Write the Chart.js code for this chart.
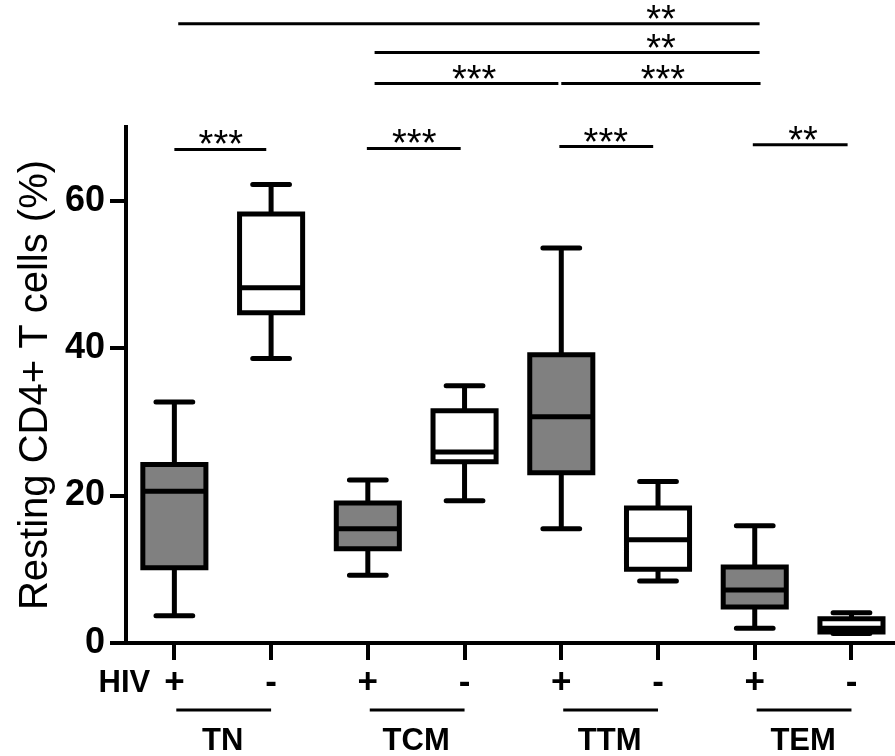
<!DOCTYPE html>
<html><head><meta charset="utf-8">
<script src="https://cdn.jsdelivr.net/npm/chart.js@4.4.1/dist/chart.umd.min.js"></script>
<style>html,body{margin:0;padding:0;background:#fff;}#wrap{width:895px;height:756px;position:relative;}canvas{display:block;}</style>
</head><body><div id="wrap"><canvas id="c" width="895" height="756" style="width:895px;height:756px"></canvas></div>
<script>
// ---- data ----
const groups = ['TN', 'TCM', 'TTM', 'TEM'];
const hivStatus = ['+', '-', '+', '-', '+', '-', '+', '-'];
const positions = [0, 1, 2, 3, 4, 5, 6, 7];
const whiskerLow  = [3.7, 38.6, 9.2, 19.3, 15.5, 8.4, 2.0, 1.3];
const quartile1   = [10.2, 44.8, 12.8, 24.6, 23.1, 10.0, 4.9, 1.5];
const medians     = [20.6, 48.2, 15.5, 25.9, 30.7, 14.0, 7.2, 2.0];
const quartile3   = [24.2, 58.2, 19.0, 31.5, 39.1, 18.3, 10.3, 3.3];
const whiskerHigh = [32.7, 62.2, 22.1, 34.9, 53.6, 21.9, 15.9, 4.1];
const yTicks = [0, 20, 40, 60];
const yTitle = 'Resting CD4+ T cells (%)';
const hivLabel = 'HIV';
// significance comparisons (in axis units)
const sigFrom   = [0.04, 2.07, 2.07, 4.00, 0.00, 1.99, 3.98, 5.98];
const sigTo     = [6.05, 6.05, 3.97, 6.06, 0.95, 2.96, 4.95, 6.96];
const sigLevel  = [84.0, 80.1, 75.9, 75.9, 66.95, 67.1, 67.35, 67.6];
const sigText   = ['**', '**', '***', '***', '***', '***', '***', '**'];
const sigTextAt = [5.03, 5.03, 3.10, 5.05, 0.48, 2.48, 4.46, 6.50];

// ---- styles ----
const BOX = 0.326, CAP = 0.19;
const FONT = "'Liberation Sans', Arial, sans-serif";

const barData = positions.map((p, i) => ({x: p, y: [quartile1[i], quartile3[i]]}));
const whiskerData = positions.flatMap((p, i) => [
  {x: p, y: quartile3[i]}, {x: p, y: whiskerHigh[i]}, {x: p, y: null},
  {x: p, y: quartile1[i]}, {x: p, y: whiskerLow[i]}, {x: p, y: null}]);
const capData = positions.flatMap((p, i) => [
  {x: p - CAP, y: whiskerHigh[i]}, {x: p + CAP, y: whiskerHigh[i]}, {x: p, y: null},
  {x: p - CAP, y: whiskerLow[i]}, {x: p + CAP, y: whiskerLow[i]}, {x: p, y: null}]);
const medianData = positions.flatMap((p, i) => [
  {x: p - BOX, y: medians[i]}, {x: p + BOX, y: medians[i]}, {x: p, y: null}]);
const outlineData = positions.flatMap((p, i) => [
  {x: p - BOX, y: quartile1[i]}, {x: p - BOX, y: quartile3[i]}, {x: p + BOX, y: quartile3[i]},
  {x: p + BOX, y: quartile1[i]}, {x: p - BOX, y: quartile1[i]}, {x: p, y: null}]);

const lineDs = (data, cap, w) => ({type: 'line', data, borderColor: '#000', borderWidth: w,
  pointRadius: 0, tension: 0, spanGaps: false, borderCapStyle: cap, borderJoinStyle: 'miter', order: 0, clip: false});

const annotations = {
  id: 'annotations',
  afterDraw(chart) {
    const {ctx, scales: {x, y}} = chart;
    ctx.save();
    ctx.fillStyle = '#000'; ctx.strokeStyle = '#000';
    ctx.lineWidth = 3; ctx.lineCap = 'butt';
    ctx.font = "38px " + FONT;
    ctx.textAlign = 'center'; ctx.textBaseline = 'alphabetic';
    sigFrom.forEach((f, i) => {
      const py = y.getPixelForValue(sigLevel[i]);
      ctx.beginPath(); ctx.moveTo(x.getPixelForValue(f), py); ctx.lineTo(x.getPixelForValue(sigTo[i]), py); ctx.stroke();
      const m = ctx.measureText(sigText[i]);
      const cy = py - 12;
      ctx.fillText(sigText[i], x.getPixelForValue(sigTextAt[i]), cy + (m.actualBoundingBoxAscent - m.actualBoundingBoxDescent) / 2);
    });
    ctx.font = 'bold 31px ' + FONT;
    ctx.textAlign = 'right'; ctx.textBaseline = 'middle';
    ctx.fillText(hivLabel, x.getPixelForValue(-0.25), x.top + 40);
    groups.forEach((g, k) => {
      const ly = x.top + 67;
      ctx.lineWidth = 3;
      ctx.beginPath(); ctx.moveTo(x.getPixelForValue(2 * k + 0.02), ly); ctx.lineTo(x.getPixelForValue(2 * k + 1), ly); ctx.stroke();
      ctx.textAlign = 'center';
      ctx.fillText(g, x.getPixelForValue(2 * k + 0.5), x.top + 98);
    });
    ctx.restore();
  }
};

new Chart(document.getElementById('c'), {
  type: 'bar',
  data: {
    datasets: [
      lineDs(outlineData, 'square', 5),
      lineDs(medianData, 'butt', 5),
      lineDs(whiskerData, 'butt', 5),
      lineDs(capData, 'round', 5),
      {type: 'bar', data: barData, order: 10, borderWidth: 0,
       backgroundColor: hivStatus.map(s => s === '+' ? '#808080' : '#ffffff'),
       categoryPercentage: 1, barPercentage: 2 * BOX}
    ]
  },
  options: {
    responsive: false, maintainAspectRatio: false, animation: false, devicePixelRatio: 1,
    layout: {padding: {top: 127, left: 0, right: 0, bottom: 0}},
    plugins: {legend: {display: false}, tooltip: {enabled: false}},
    scales: {
      x: {type: 'linear', min: -0.5, max: 7.45, offset: false,
        afterBuildTicks: s => { s.ticks = positions.map(v => ({value: v})); },
        afterFit: s => { s.height = 113; },
        grid: {display: true, offset: false, drawOnChartArea: false, drawTicks: true, tickLength: 17, lineWidth: 4, tickWidth: 4, color: '#000'},
        border: {display: true, width: 4, color: '#000'},
        ticks: {color: '#000', padding: 2, maxRotation: 0, autoSkip: false, font: {family: FONT, size: 35, weight: 'bold'},
          callback: v => hivStatus[v]}
      },
      y: {min: 0, max: 70,
        afterBuildTicks: s => { s.ticks = yTicks.map(v => ({value: v})); },
        afterFit: s => { s.width = 126; },
        grid: {display: true, drawOnChartArea: false, drawTicks: true, tickLength: 16, lineWidth: 4, tickWidth: 4, color: '#000'},
        border: {display: true, width: 4, color: '#000'},
        ticks: {color: '#000', padding: 5, font: {family: FONT, size: 36, weight: 'bold'}},
        title: {display: true, text: yTitle, color: '#000', padding: {top: 12, bottom: 0}, font: {family: FONT, size: 40, weight: 'normal'}}
      }
    }
  },
  plugins: [annotations]
});
</script></body></html>
